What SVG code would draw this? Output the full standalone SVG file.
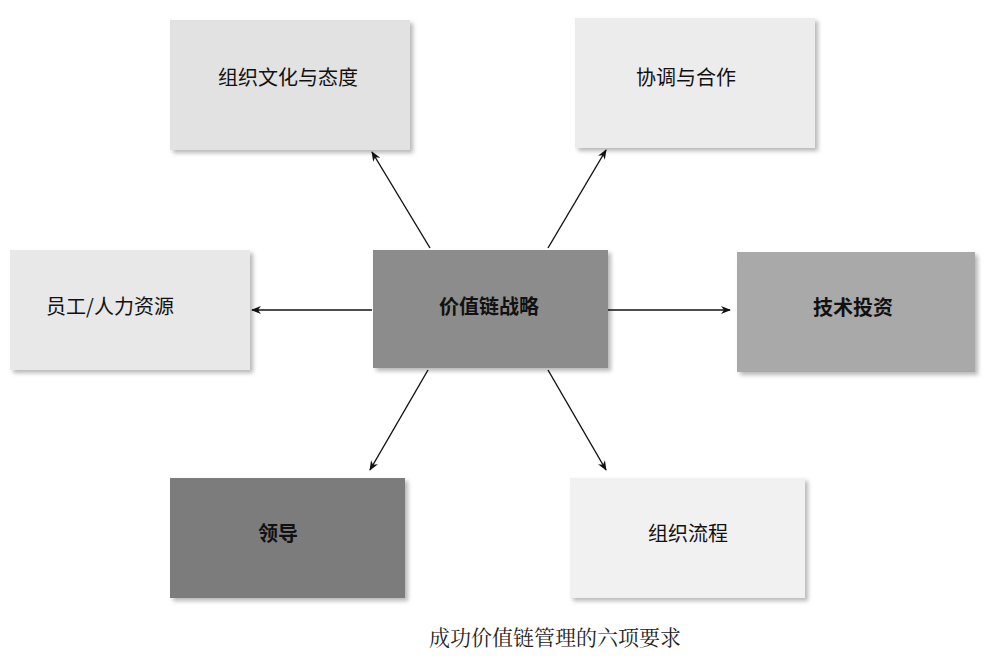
<svg xmlns="http://www.w3.org/2000/svg" width="999" height="660" viewBox="0 0 999 660">
<defs>
<marker id="ah" markerWidth="10" markerHeight="8" refX="9" refY="4" orient="auto" markerUnits="userSpaceOnUse">
<path d="M0,0 L10,4 L0,8 L3,4 Z" fill="#111"/>
</marker>
<filter id="sh" x="-5%" y="-5%" width="115%" height="120%"><feDropShadow dx="3" dy="3" stdDeviation="2" flood-color="#999" flood-opacity="0.7"/></filter>
</defs>
<style>
.box{filter:url(#sh);}
.t{font-family:"Noto Sans CJK SC",sans-serif;font-size:20px;fill:#111;text-anchor:middle;dominant-baseline:middle;}
.c{stroke:#111;stroke-width:1.4;fill:none;marker-end:url(#ah);}
</style>
<rect width="999" height="660" fill="#fff"/>
<g id="n1"><rect class="box" x="170" y="20" width="240" height="130" fill="#e2e2e2"/><text class="t" x="288" y="80">组织文化与态度</text></g>
<g id="n2"><rect class="box" x="575" y="18" width="240" height="130" fill="#ececec"/><text class="t" x="686" y="80">协调与合作</text></g>
<g id="n3"><rect class="box" x="10" y="250" width="240" height="120" fill="#e8e8e8"/><text class="t" x="110" y="309">员工/人力资源</text></g>
<g id="n0"><rect class="box" x="373" y="250" width="235" height="118" fill="#8c8c8c"/><text class="t" x="489" y="309" font-weight="bold">价值链战略</text></g>
<g id="n4"><rect class="box" x="737" y="252" width="238" height="120" fill="#a9a9a9"/><text class="t" x="853" y="310" font-weight="bold">技术投资</text></g>
<g id="n5"><rect class="box" x="170" y="478" width="235" height="120" fill="#7c7c7c"/><text class="t" x="278" y="536" font-weight="bold">领导</text></g>
<g id="n6"><rect class="box" x="570" y="478" width="235" height="120" fill="#f1f1f1"/><text class="t" x="688" y="536">组织流程</text></g>
<g id="connectors">
<line class="c" x1="430" y1="248" x2="372" y2="152"/>
<line class="c" x1="548" y1="248" x2="606" y2="150"/>
<line class="c" x1="372" y1="310" x2="252" y2="310"/>
<line class="c" x1="608" y1="310" x2="730" y2="310"/>
<line class="c" x1="428" y1="370" x2="370" y2="470"/>
<line class="c" x1="548" y1="370" x2="606" y2="470"/>
</g>
<text x="555" y="645" style="font-family:'Noto Serif CJK SC','Noto Sans CJK SC',serif;font-size:21px;fill:#222;text-anchor:middle">成功价值链管理的六项要求</text>
</svg>
